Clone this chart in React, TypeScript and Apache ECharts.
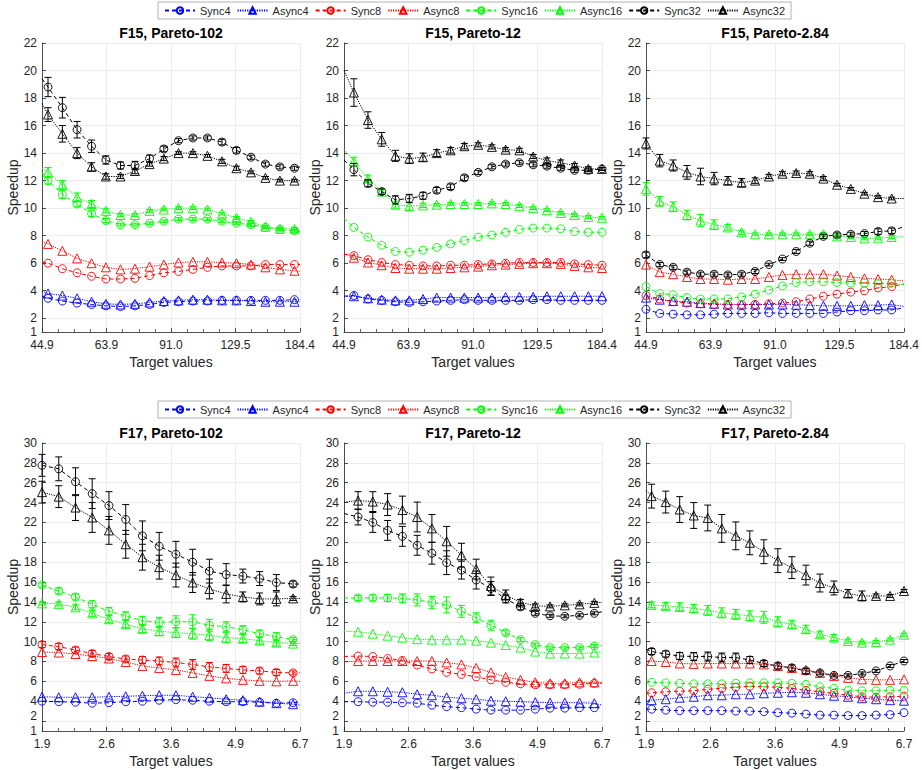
import React, { useEffect, useRef } from "react";
import * as echarts from "echarts";

const FONT = '"Liberation Sans", Arial, Helvetica, sans-serif';
const SERIES_NAMES = ["Sync4", "Async4", "Sync8", "Async8", "Sync16", "Async16", "Sync32", "Async32"];
const SERIES_COLORS = ["#0000ff", "#0000ff", "#ff0000", "#ff0000", "#00ff00", "#00ff00", "#000000", "#000000"];

const F15_X_TICKS = [44.9, 63.92, 90.99, 129.5, 184.4];
const F17_X_TICKS = [1.9, 2.604, 3.568, 4.889, 6.7];
const Y_MIN = 1;
const F15_Y_TICKS = [2, 4, 6, 8, 10, 12, 14, 16, 18, 20, 22];
const F17_Y_TICKS = [2, 4, 6, 8, 10, 12, 14, 16, 18, 20, 22, 24, 26, 28, 30];
const MINOR_PER_MAJOR = 4;
const TITLES = ["F15, Pareto-102", "F15, Pareto-12", "F15, Pareto-2.84", "F17, Pareto-102", "F17, Pareto-12", "F17, Pareto-2.84"];

// ---------- Panel 1: F15, Pareto-102 ----------
const P1_X = [44.9, 46.4, 50.2, 54.4, 58.9, 63.7, 69.0, 74.7, 80.9, 87.5, 94.8, 102.6, 111.1, 120.3, 130.2, 141.0, 152.6, 165.2, 178.9, 184.4];
const P1_NO_MARKER = [0, 19];
const P1_SYNC4 = [3.6, 3.45, 3.25, 3.1, 3.0, 2.9, 2.85, 2.9, 3.0, 3.15, 3.2, 3.25, 3.25, 3.3, 3.3, 3.3, 3.3, 3.3, 3.35, 3.35];
const P1_ASYNC4 = [3.95, 3.8, 3.65, 3.45, 3.2, 3.05, 3.0, 3.05, 3.15, 3.25, 3.3, 3.35, 3.35, 3.3, 3.3, 3.25, 3.2, 3.2, 3.2, 3.2];
const P1_SYNC8 = [6.1, 6.0, 5.6, 5.3, 5.05, 4.85, 4.85, 4.9, 5.1, 5.3, 5.4, 5.55, 5.7, 5.8, 5.8, 5.8, 5.9, 5.9, 5.9, 5.9];
const P1_ASYNC8 = [7.6, 7.4, 6.9, 6.35, 6.0, 5.7, 5.55, 5.6, 5.75, 5.9, 6.05, 6.1, 6.1, 6.05, 6.0, 5.9, 5.7, 5.55, 5.45, 5.4];
const P1_SYNC16 = [12.6, 12.0, 11.0, 10.3, 9.6, 9.1, 8.8, 8.8, 8.9, 9.05, 9.2, 9.2, 9.2, 9.05, 8.9, 8.8, 8.6, 8.45, 8.35, 8.3];
const P1_ASYNC16 = [12.9, 12.6, 11.7, 10.8, 10.3, 9.8, 9.5, 9.5, 9.8, 9.9, 10.0, 10.0, 9.9, 9.6, 9.3, 9.0, 8.65, 8.5, 8.5, 8.4];
const P1_SYNC32 = [19.4, 18.8, 17.3, 15.7, 14.5, 13.5, 13.1, 13.1, 13.6, 14.3, 14.9, 15.1, 15.1, 14.8, 14.2, 13.7, 13.2, 13.0, 12.9, 13.0];
const P1_ASYNC32 = [17.6, 16.8, 15.4, 14.0, 13.0, 12.3, 12.3, 12.7, 13.2, 13.6, 14.0, 14.0, 13.8, 13.4, 12.9, 12.6, 12.2, 12.0, 12.0, 12.0];
const P1_ERR_SYNC16 = [0, 0.25, 0.3, 0.2, 0.2, 0.15, 0.1, 0.1, 0.1, 0.1, 0.1, 0.1, 0.1, 0.1, 0.1, 0.1, 0.1, 0.1, 0.1, 0];
const P1_ERR_ASYNC16 = [0, 0.35, 0.3, 0.3, 0.25, 0.15, 0.1, 0.1, 0.1, 0.1, 0.1, 0.1, 0.1, 0.1, 0.1, 0.1, 0.1, 0.1, 0.1, 0];
const P1_ERR_SYNC32 = [0, 0.7, 0.75, 0.6, 0.45, 0.3, 0.25, 0.3, 0.25, 0.2, 0.15, 0.15, 0.15, 0.2, 0.2, 0.15, 0.15, 0.15, 0.15, 0];
const P1_ERR_ASYNC32 = [0, 0.5, 0.6, 0.4, 0.3, 0.2, 0.15, 0.2, 0.15, 0.15, 0.1, 0.1, 0.1, 0.15, 0.15, 0.1, 0.1, 0.1, 0.1, 0];

// ---------- Panel 2: F15, Pareto-12 ----------
const P2_X = [44.9, 47.4, 51.2, 55.2, 59.5, 64.2, 69.2, 74.6, 80.5, 86.8, 93.6, 100.9, 108.8, 117.3, 126.5, 136.4, 147.1, 158.7, 171.1, 184.4];
const P2_NO_MARKER = [0];
const P2_SYNC4 = [3.6, 3.65, 3.4, 3.3, 3.2, 3.15, 3.2, 3.25, 3.3, 3.35, 3.3, 3.3, 3.3, 3.3, 3.35, 3.35, 3.3, 3.3, 3.3, 3.3];
const P2_ASYNC4 = [3.6, 3.6, 3.45, 3.35, 3.3, 3.3, 3.4, 3.5, 3.5, 3.5, 3.5, 3.5, 3.55, 3.55, 3.55, 3.6, 3.6, 3.6, 3.6, 3.6];
const P2_SYNC8 = [6.65, 6.55, 6.25, 6.05, 5.9, 5.85, 5.8, 5.8, 5.85, 5.85, 5.9, 5.95, 6.0, 6.05, 6.05, 6.05, 6.05, 5.95, 5.9, 5.85];
const P2_ASYNC8 = [6.75, 6.4, 6.05, 5.85, 5.65, 5.6, 5.6, 5.6, 5.65, 5.7, 5.75, 5.85, 5.9, 5.95, 6.0, 6.0, 5.95, 5.8, 5.7, 5.65];
const P2_SYNC16 = [9.25, 8.6, 7.9, 7.3, 6.85, 6.8, 6.95, 7.15, 7.4, 7.65, 7.9, 8.05, 8.25, 8.45, 8.55, 8.55, 8.5, 8.3, 8.25, 8.25];
const P2_ASYNC16 = [14.25, 13.4, 12.15, 11.2, 10.25, 10.15, 10.2, 10.25, 10.3, 10.3, 10.3, 10.35, 10.3, 10.15, 10.0, 9.85, 9.65, 9.5, 9.35, 9.3];
const P2_SYNC32 = [13.5, 12.8, 11.8, 11.2, 10.6, 10.7, 10.9, 11.3, 11.55, 12.2, 12.6, 13.0, 13.2, 13.3, 13.15, 13.05, 12.9, 12.75, 12.75, 12.85];
const P2_ASYNC32 = [20.0, 18.4, 16.4, 15.0, 13.8, 13.6, 13.7, 14.0, 14.2, 14.5, 14.6, 14.45, 14.25, 14.2, 13.75, 13.45, 13.3, 13.1, 12.85, 12.85];
const P2_ERR_ASYNC16 = [0, 0.3, 0.25, 0.15, 0.25, 0.3, 0.15, 0.1, 0.1, 0.1, 0.1, 0.1, 0.1, 0.1, 0.1, 0.1, 0.1, 0.1, 0.1, 0.1];
const P2_ERR_SYNC32 = [0, 0.45, 0.25, 0.2, 0.3, 0.3, 0.25, 0.2, 0.2, 0.2, 0.15, 0.15, 0.15, 0.15, 0.15, 0.15, 0.15, 0.15, 0.1, 0.1];
const P2_ERR_ASYNC32 = [0, 1.0, 0.6, 0.5, 0.4, 0.35, 0.3, 0.25, 0.2, 0.2, 0.15, 0.15, 0.15, 0.15, 0.15, 0.2, 0.2, 0.15, 0.15, 0.1];

// ---------- Panel 3: F15, Pareto-2.84 ----------
const P3_X = [44.9, 48.4, 52.1, 56.2, 60.5, 65.2, 70.3, 75.8, 81.6, 88.0, 94.8, 102.2, 110.1, 118.6, 127.8, 137.8, 148.5, 160.0, 172.4, 184.4];
const P3_NO_MARKER = [19];
const P3_SYNC4 = [2.65, 2.35, 2.3, 2.25, 2.25, 2.3, 2.35, 2.35, 2.35, 2.4, 2.35, 2.35, 2.35, 2.35, 2.45, 2.55, 2.55, 2.6, 2.6, 2.75];
const P3_ASYNC4 = [3.5, 3.35, 3.25, 3.2, 3.1, 3.05, 3.0, 3.0, 3.0, 3.0, 3.0, 2.98, 2.95, 2.9, 2.9, 2.9, 2.95, 2.95, 3.0, 2.85];
const P3_SYNC8 = [3.65, 3.4, 3.2, 3.1, 3.05, 3.0, 3.0, 3.0, 3.0, 3.05, 3.1, 3.2, 3.4, 3.6, 3.75, 3.9, 4.0, 4.2, 4.3, 4.5];
const P3_ASYNC8 = [5.9, 5.35, 5.2, 5.0, 4.85, 4.85, 4.8, 4.85, 4.85, 5.0, 5.15, 5.2, 5.2, 5.2, 5.1, 5.0, 4.9, 4.85, 4.8, 4.7];
const P3_SYNC16 = [4.3, 3.8, 3.7, 3.5, 3.4, 3.4, 3.4, 3.55, 3.75, 4.05, 4.35, 4.6, 4.65, 4.65, 4.6, 4.55, 4.55, 4.5, 4.55, 4.45];
const P3_ASYNC16 = [11.4, 10.5, 10.1, 9.5, 9.1, 8.8, 8.6, 8.25, 8.1, 8.1, 8.1, 8.1, 8.1, 8.1, 7.95, 7.9, 7.8, 7.8, 7.9, 7.9];
const P3_SYNC32 = [6.6, 5.9, 5.7, 5.35, 5.2, 5.2, 5.15, 5.2, 5.4, 5.9, 6.3, 6.85, 7.45, 7.95, 8.05, 8.1, 8.15, 8.3, 8.35, 8.65];
const P3_ASYNC32 = [14.7, 13.45, 13.1, 12.6, 12.3, 12.15, 12.0, 11.85, 12.0, 12.3, 12.5, 12.55, 12.5, 12.15, 11.7, 11.4, 11.05, 10.8, 10.7, 10.7];
const P3_ERR_ASYNC16 = [0.45, 0.35, 0.35, 0.35, 0.45, 0.35, 0.2, 0.15, 0.1, 0.1, 0.1, 0.1, 0.1, 0.1, 0.1, 0.1, 0.1, 0.1, 0.1, 0];
const P3_ERR_SYNC32 = [0.2, 0.15, 0.15, 0.15, 0.15, 0.15, 0.15, 0.15, 0.15, 0.1, 0.1, 0.15, 0.15, 0.15, 0.15, 0.15, 0.15, 0.2, 0.2, 0];
const P3_ERR_ASYNC32 = [0.4, 0.45, 0.4, 0.5, 0.6, 0.45, 0.3, 0.3, 0.2, 0.15, 0.15, 0.15, 0.15, 0.15, 0.1, 0.1, 0.1, 0.1, 0.1, 0];

// ---------- Panel 4: F17, Pareto-102 ----------
const P4_X = [1.9, 2.062, 2.238, 2.428, 2.635, 2.86, 3.103, 3.368, 3.655, 3.966, 4.304, 4.671, 5.069, 5.501, 5.97, 6.478, 6.7];
const P4_NO_MARKER = [16];
const P4_SYNC4 = [4.0, 3.95, 3.9, 3.8, 3.85, 3.95, 4.0, 4.1, 4.15, 4.1, 4.0, 3.95, 3.95, 3.9, 3.8, 3.85, 3.9];
const P4_ASYNC4 = [4.45, 4.4, 4.4, 4.4, 4.45, 4.5, 4.55, 4.6, 4.6, 4.45, 4.35, 4.2, 4.1, 3.95, 3.8, 3.7, 3.6];
const P4_SYNC8 = [9.7, 9.5, 9.15, 8.8, 8.5, 8.25, 8.15, 8.05, 7.9, 7.7, 7.45, 7.3, 7.15, 7.05, 6.9, 6.85, 6.85];
const P4_ASYNC8 = [8.95, 8.9, 8.75, 8.55, 8.3, 7.95, 7.55, 7.35, 7.15, 6.85, 6.55, 6.3, 6.15, 6.05, 6.0, 6.05, 6.0];
const P4_SYNC16 = [15.7, 15.1, 14.5, 13.75, 13.05, 12.6, 12.1, 11.95, 12.0, 12.0, 11.65, 11.5, 11.2, 10.8, 10.5, 10.2, 10.2];
const P4_ASYNC16 = [13.85, 13.8, 13.45, 12.85, 12.25, 11.75, 11.3, 11.05, 10.9, 10.8, 10.65, 10.4, 10.3, 10.1, 9.9, 9.8, 9.8];
const P4_SYNC32 = [27.75, 27.4, 26.1, 24.9, 23.7, 22.3, 20.65, 19.6, 18.8, 18.0, 17.1, 16.75, 16.6, 16.35, 15.95, 15.8, 15.8];
const P4_ASYNC32 = [25.05, 24.6, 23.5, 22.5, 21.2, 19.8, 18.5, 17.5, 16.7, 15.95, 15.3, 14.8, 14.5, 14.3, 14.3, 14.35, 14.35];
const P4_ERR_SYNC8 = [0.3, 0.3, 0.3, 0.3, 0.3, 0.3, 0.35, 0.4, 0.45, 0.5, 0.45, 0.4, 0.35, 0.3, 0.3, 0.2, 0];
const P4_ERR_SYNC16 = [0.2, 0.3, 0.3, 0.35, 0.4, 0.4, 0.45, 0.5, 0.6, 0.7, 0.6, 0.5, 0.4, 0.35, 0.4, 0.2, 0];
const P4_ERR_ASYNC16 = [0.15, 0.2, 0.25, 0.3, 0.35, 0.35, 0.4, 0.45, 0.5, 0.55, 0.55, 0.5, 0.4, 0.35, 0.35, 0.2, 0];
const P4_ERR_SYNC32 = [1.1, 1.2, 1.4, 1.5, 1.4, 1.5, 1.5, 1.4, 1.3, 1.3, 1.2, 1.1, 0.7, 0.7, 0.8, 0.3, 0];
const P4_ERR_ASYNC32 = [1.1, 1.1, 1.3, 1.5, 1.4, 1.4, 1.3, 1.2, 1.2, 1.0, 1.0, 0.9, 0.5, 0.6, 0.7, 0.2, 0];

// ---------- Panel 5: F17, Pareto-12 ----------
const P5_X = [1.9, 2.035, 2.187, 2.351, 2.527, 2.716, 2.919, 3.137, 3.372, 3.624, 3.895, 4.186, 4.499, 4.836, 5.198, 5.587, 6.005, 6.454, 6.7];
const P5_NO_MARKER = [0, 18];
const P5_SYNC4 = [3.95, 3.95, 3.9, 3.9, 3.85, 3.8, 3.6, 3.45, 3.35, 3.2, 3.1, 3.1, 3.1, 3.2, 3.3, 3.3, 3.35, 3.35, 3.45];
const P5_ASYNC4 = [4.8, 5.0, 5.0, 4.95, 4.9, 4.7, 4.6, 4.4, 4.3, 4.2, 4.05, 4.0, 3.95, 3.9, 3.85, 3.85, 3.85, 3.8, 3.6];
const P5_SYNC8 = [8.5, 8.55, 8.5, 8.3, 8.1, 7.65, 7.25, 6.9, 6.7, 6.45, 6.15, 5.9, 5.75, 5.65, 5.65, 5.65, 5.7, 5.8, 5.8];
const P5_ASYNC8 = [7.95, 8.05, 8.05, 8.05, 8.05, 8.05, 8.05, 7.9, 7.7, 7.35, 6.9, 6.45, 6.15, 5.9, 5.8, 5.8, 5.9, 5.9, 5.9];
const P5_SYNC16 = [14.4, 14.4, 14.4, 14.4, 14.35, 14.2, 13.95, 13.7, 13.05, 12.4, 11.65, 10.9, 10.2, 9.7, 9.4, 9.4, 9.4, 9.55, 9.6];
const P5_ASYNC16 = [11.05, 11.0, 10.8, 10.6, 10.4, 10.25, 10.2, 10.2, 10.2, 10.1, 9.9, 9.65, 9.4, 9.0, 8.8, 8.8, 8.8, 8.9, 8.95];
const P5_SYNC32 = [22.9, 22.55, 22.0, 21.2, 20.6, 19.7, 18.9, 17.95, 17.2, 16.2, 15.35, 14.3, 13.5, 12.85, 12.6, 12.55, 12.65, 12.85, 13.0];
const P5_ASYNC32 = [24.05, 24.2, 24.1, 23.8, 23.25, 22.55, 21.4, 20.1, 18.7, 17.3, 15.6, 14.7, 13.95, 13.6, 13.55, 13.65, 13.75, 13.9, 13.95];
const P5_ERR_SYNC16 = [0, 0.25, 0.3, 0.35, 0.45, 0.6, 0.6, 0.8, 0.6, 0.5, 0.5, 0.25, 0.2, 0.15, 0.15, 0.15, 0.15, 0.15, 0];
const P5_ERR_SYNC32 = [0, 0.8, 1.0, 1.0, 1.0, 1.0, 1.1, 1.2, 0.9, 0.9, 0.7, 0.4, 0.3, 0.2, 0.15, 0.15, 0.15, 0.15, 0];
const P5_ERR_ASYNC32 = [0, 0.9, 1.0, 1.1, 1.4, 1.5, 1.4, 1.5, 1.2, 1.0, 0.9, 0.5, 0.3, 0.2, 0.15, 0.15, 0.15, 0.15, 0];

// ---------- Panel 6: F17, Pareto-2.84 ----------
const P6_X = [1.9, 1.953, 2.092, 2.24, 2.399, 2.569, 2.751, 2.946, 3.155, 3.379, 3.618, 3.875, 4.15, 4.444, 4.759, 5.097, 5.458, 5.845, 6.259, 6.7];
const P6_NO_MARKER = [0];
const P6_SYNC4 = [3.2, 3.2, 3.1, 3.05, 3.05, 3.05, 3.05, 3.0, 3.0, 2.95, 2.85, 2.8, 2.7, 2.6, 2.6, 2.55, 2.55, 2.6, 2.65, 2.85];
const P6_ASYNC4 = [4.1, 4.1, 4.2, 4.35, 4.45, 4.6, 4.6, 4.7, 4.7, 4.8, 4.85, 4.9, 4.85, 4.7, 4.55, 4.45, 4.3, 4.2, 4.1, 4.05];
const P6_SYNC8 = [4.8, 4.85, 4.95, 5.0, 5.05, 5.2, 5.3, 5.4, 5.5, 5.45, 5.4, 5.3, 5.1, 4.95, 4.8, 4.6, 4.45, 4.4, 4.45, 4.5];
const P6_ASYNC8 = [8.05, 8.05, 7.95, 7.8, 7.75, 7.8, 7.8, 7.8, 7.8, 7.7, 7.55, 7.35, 7.15, 6.85, 6.55, 6.35, 6.2, 6.15, 6.15, 6.2];
const P6_SYNC16 = [5.95, 5.9, 5.85, 5.8, 5.75, 5.75, 5.75, 5.8, 5.85, 5.85, 5.85, 5.8, 5.7, 5.45, 5.3, 5.1, 5.05, 5.05, 5.1, 5.1];
const P6_ASYNC16 = [13.75, 13.7, 13.6, 13.5, 13.35, 13.15, 12.9, 12.75, 12.6, 12.45, 12.0, 11.75, 11.25, 10.75, 10.4, 10.05, 9.9, 9.95, 10.2, 10.7];
const P6_SYNC32 = [9.25, 9.0, 8.75, 8.55, 8.5, 8.5, 8.4, 8.4, 8.15, 7.8, 7.55, 7.35, 7.05, 6.85, 6.6, 6.6, 6.8, 7.05, 7.55, 8.05];
const P6_ASYNC32 = [25.25, 24.65, 24.05, 23.3, 22.7, 22.45, 21.4, 20.65, 19.95, 19.05, 18.15, 17.45, 16.7, 15.9, 15.4, 14.85, 14.6, 14.6, 14.6, 15.1];
const P6_ERR_ASYNC16 = [0, 0.3, 0.35, 0.4, 0.4, 0.5, 0.5, 0.5, 0.5, 0.6, 0.5, 0.4, 0.4, 0.3, 0.3, 0.2, 0.15, 0.15, 0.15, 0.15];
const P6_ERR_SYNC32 = [0, 0.3, 0.3, 0.35, 0.4, 0.45, 0.45, 0.45, 0.35, 0.3, 0.3, 0.3, 0.25, 0.2, 0.15, 0.15, 0.15, 0.15, 0.15, 0.15];
const P6_ERR_ASYNC32 = [0, 1.2, 1.1, 1.3, 1.3, 1.3, 1.4, 1.4, 1.2, 1.2, 1.2, 1.1, 1.0, 0.9, 0.7, 0.4, 0.5, 0.2, 0.15, 0.15];

type Panel = {
  x: number[];
  noMarker: number[];
  values: number[][];
  errors: [number, number[]][];
  xTicks: number[];
  yTicks: number[];
};

const PANELS: Panel[] = [
  { x: P1_X, noMarker: P1_NO_MARKER, values: [P1_SYNC4, P1_ASYNC4, P1_SYNC8, P1_ASYNC8, P1_SYNC16, P1_ASYNC16, P1_SYNC32, P1_ASYNC32],
    errors: [[4, P1_ERR_SYNC16], [5, P1_ERR_ASYNC16], [6, P1_ERR_SYNC32], [7, P1_ERR_ASYNC32]], xTicks: F15_X_TICKS, yTicks: F15_Y_TICKS },
  { x: P2_X, noMarker: P2_NO_MARKER, values: [P2_SYNC4, P2_ASYNC4, P2_SYNC8, P2_ASYNC8, P2_SYNC16, P2_ASYNC16, P2_SYNC32, P2_ASYNC32],
    errors: [[5, P2_ERR_ASYNC16], [6, P2_ERR_SYNC32], [7, P2_ERR_ASYNC32]], xTicks: F15_X_TICKS, yTicks: F15_Y_TICKS },
  { x: P3_X, noMarker: P3_NO_MARKER, values: [P3_SYNC4, P3_ASYNC4, P3_SYNC8, P3_ASYNC8, P3_SYNC16, P3_ASYNC16, P3_SYNC32, P3_ASYNC32],
    errors: [[5, P3_ERR_ASYNC16], [6, P3_ERR_SYNC32], [7, P3_ERR_ASYNC32]], xTicks: F15_X_TICKS, yTicks: F15_Y_TICKS },
  { x: P4_X, noMarker: P4_NO_MARKER, values: [P4_SYNC4, P4_ASYNC4, P4_SYNC8, P4_ASYNC8, P4_SYNC16, P4_ASYNC16, P4_SYNC32, P4_ASYNC32],
    errors: [[2, P4_ERR_SYNC8], [4, P4_ERR_SYNC16], [5, P4_ERR_ASYNC16], [6, P4_ERR_SYNC32], [7, P4_ERR_ASYNC32]], xTicks: F17_X_TICKS, yTicks: F17_Y_TICKS },
  { x: P5_X, noMarker: P5_NO_MARKER, values: [P5_SYNC4, P5_ASYNC4, P5_SYNC8, P5_ASYNC8, P5_SYNC16, P5_ASYNC16, P5_SYNC32, P5_ASYNC32],
    errors: [[4, P5_ERR_SYNC16], [6, P5_ERR_SYNC32], [7, P5_ERR_ASYNC32]], xTicks: F17_X_TICKS, yTicks: F17_Y_TICKS },
  { x: P6_X, noMarker: P6_NO_MARKER, values: [P6_SYNC4, P6_ASYNC4, P6_SYNC8, P6_ASYNC8, P6_SYNC16, P6_ASYNC16, P6_SYNC32, P6_ASYNC32],
    errors: [[5, P6_ERR_ASYNC16], [6, P6_ERR_SYNC32], [7, P6_ERR_ASYNC32]], xTicks: F17_X_TICKS, yTicks: F17_Y_TICKS },
];

const GRID_LEFT = [42, 344, 646];
const GRID_TOP = [43, 443];
const GRID_W = 258;
const GRID_H = [289, 288];
const AXIS_COLOR = "#262626";
const GRID_COLOR = "#e8e8e8";

// minor tick positions: evenly split each major interval on the log scale
function minorTicks(ticks: number[]): number[] {
  const out: number[] = [];
  for (let i = 0; i < ticks.length - 1; i++) {
    const r = ticks[i + 1] / ticks[i];
    for (let j = 1; j < MINOR_PER_MAJOR; j++) out.push(ticks[i] * Math.pow(r, j / MINOR_PER_MAJOR));
  }
  return out;
}

function labelOnlyAxis(k: number, yMax: number, value: number, extraLabel: any) {
  return {
    type: "value",
    gridIndex: k,
    position: "left",
    min: Y_MIN,
    max: yMax,
    axisLine: { show: false, onZero: false },
    axisTick: { show: false },
    axisLabel: { customValues: [value], color: AXIS_COLOR, fontSize: 12, fontFamily: FONT, margin: 5, ...extraLabel },
    splitLine: { show: false },
  };
}

function buildOption() {
  const grid: any[] = [];
  const xAxis: any[] = [];
  const xMinorAxis: any[] = [];
  const yAxis: any[] = [];
  const yExtraAxis: any[] = [];
  const series: any[] = [];
  const graphic: any[] = [];

  PANELS.forEach((p, k) => {
    const row = Math.floor(k / 3);
    const col = k % 3;
    const left = GRID_LEFT[col];
    const top = GRID_TOP[row];
    const xMin = p.xTicks[0];
    const xMax = p.xTicks[p.xTicks.length - 1];
    const yMax = p.yTicks[p.yTicks.length - 1];
    const tight = row === 1; // the "1" and "2" labels sit very close in the lower row
    grid.push({ left, top, width: GRID_W, height: GRID_H[row], containLabel: false });
    graphic.push({
      type: "text",
      x: left + GRID_W / 2,
      y: top - 10,
      style: { text: TITLES[k], fill: "#000", fontSize: 14, fontWeight: "bold", fontFamily: FONT, align: "center", verticalAlign: "middle" },
    });
    xAxis.push({
      type: "log",
      gridIndex: k,
      position: "bottom",
      min: xMin,
      max: xMax,
      axisLine: { onZero: false, lineStyle: { color: AXIS_COLOR, width: 0.8 } },
      axisTick: { customValues: p.xTicks, inside: true, length: 4, lineStyle: { color: AXIS_COLOR, width: 0.8 } },
      axisLabel: { customValues: p.xTicks, formatter: (v: number) => Number(v).toFixed(1), color: AXIS_COLOR, fontSize: 12, fontFamily: FONT, margin: 7, hideOverlap: false },
      splitLine: { show: true, lineStyle: { color: GRID_COLOR, width: 0.8 } },
      name: "Target values",
      nameLocation: "middle",
      nameGap: 23,
      nameTextStyle: { color: AXIS_COLOR, fontSize: 14, fontFamily: FONT },
    });
    xMinorAxis.push({
      type: "log",
      gridIndex: k,
      position: "bottom",
      min: xMin,
      max: xMax,
      axisLine: { show: false, onZero: false },
      axisTick: { show: true, customValues: minorTicks(p.xTicks), inside: true, length: 3, lineStyle: { color: AXIS_COLOR, width: 0.7 } },
      axisLabel: { show: false },
      splitLine: { show: false },
    });
    yAxis.push({
      type: "value",
      gridIndex: k,
      position: "left",
      min: Y_MIN,
      max: yMax,
      axisLine: { show: true, onZero: false, lineStyle: { color: AXIS_COLOR, width: 0.8 } },
      axisTick: { show: true, customValues: p.yTicks, inside: true, length: 4, lineStyle: { color: AXIS_COLOR, width: 0.8 } },
      axisLabel: { customValues: p.yTicks.slice(1), color: AXIS_COLOR, fontSize: 12, fontFamily: FONT, margin: 5 },
      splitLine: { show: true, lineStyle: { color: GRID_COLOR, width: 0.8 } },
      name: "Speedup",
      nameLocation: "middle",
      nameGap: 17,
      nameRotate: 90,
      nameTextStyle: { color: AXIS_COLOR, fontSize: 14, fontFamily: FONT },
    });
    // the two lowest labels ("2" and "1") each on their own label-only axis; in the tight row "2" is lifted a little
    yExtraAxis.push(labelOnlyAxis(k, yMax, p.yTicks[0], tight ? { verticalAlign: "bottom", lineHeight: 10 } : {}));
    yExtraAxis.push(labelOnlyAxis(k, yMax, Y_MIN, {}));

    p.values.forEach((vals, s) => {
      const isSync = s % 2 === 0;
      const color = SERIES_COLORS[s];
      series.push({
        type: "line",
        name: SERIES_NAMES[s],
        xAxisIndex: k,
        yAxisIndex: k,
        data: p.x.map((xv, i) => (p.noMarker.includes(i) ? { value: [xv, vals[i]], symbol: "none" } : { value: [xv, vals[i]] })),
        symbol: isSync ? "circle" : "triangle",
        symbolSize: isSync ? 8 : 9,
        showAllSymbol: true,
        color,
        lineStyle: { color, width: 1, type: isSync ? [4, 3] : [1.2, 1.2] },
        itemStyle: { color: "rgba(255,255,255,0)", borderColor: color, borderWidth: 0.9 },
        emphasis: { disabled: true },
        z: 3,
      });
    });

    const errData: any[] = [];
    p.errors.forEach(([s, errs]) => {
      p.x.forEach((xv, i) => {
        const e = errs[i] ?? 0;
        if (e > 0 && !p.noMarker.includes(i)) {
          const v = p.values[s][i];
          errData.push([xv, v - e, v + e, s]);
        }
      });
    });
    series.push({
      type: "custom",
      xAxisIndex: k,
      yAxisIndex: k,
      silent: true,
      z: 4,
      encode: { x: 0, y: [1, 2] },
      data: errData,
      renderItem: (params: any, api: any) => {
        const xv = api.value(0);
        const lo = api.coord([xv, api.value(1)]);
        const hi = api.coord([xv, api.value(2)]);
        const c = SERIES_COLORS[api.value(3)];
        const w = 3.5;
        const st = { stroke: c, lineWidth: 1 };
        return {
          type: "group",
          children: [
            { type: "line", shape: { x1: lo[0], y1: lo[1], x2: hi[0], y2: hi[1] }, style: st },
            { type: "line", shape: { x1: lo[0] - w, y1: lo[1], x2: lo[0] + w, y2: lo[1] }, style: st },
            { type: "line", shape: { x1: hi[0] - w, y1: hi[1], x2: hi[0] + w, y2: hi[1] }, style: st },
          ],
        };
      },
    });
  });

  const legendBase = {
    data: SERIES_NAMES,
    left: 158,
    orient: "horizontal",
    itemWidth: 30,
    itemHeight: 8,
    itemGap: 6,
    padding: [3, 6, 3, 6],
    borderColor: "#a0a0a0",
    borderWidth: 0.8,
    backgroundColor: "#ffffff",
    textStyle: { color: AXIS_COLOR, fontSize: 11, fontFamily: FONT },
    selectedMode: false,
  };

  return {
    animation: false,
    backgroundColor: "#ffffff",
    grid,
    xAxis: [...xAxis, ...xMinorAxis],
    yAxis: [...yAxis, ...yExtraAxis],
    series,
    graphic,
    legend: [
      { ...legendBase, top: 2 },
      { ...legendBase, top: 401 },
    ],
  };
}

export default function App() {
  const ref = useRef<HTMLDivElement>(null);
  useEffect(() => {
    document.body.style.margin = "0";
    if (!ref.current) return;
    const chart = echarts.init(ref.current, undefined, { renderer: "svg" });
    chart.setOption(buildOption() as any);
    return () => chart.dispose();
  }, []);
  return <div ref={ref} style={{ width: 922, height: 770 }} />;
}
